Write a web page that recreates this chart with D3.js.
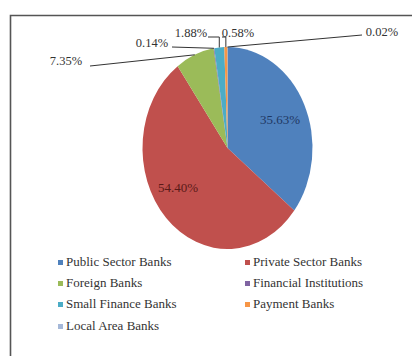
<!DOCTYPE html>
<html><head><meta charset="utf-8">
<script src="https://cdn.jsdelivr.net/npm/d3@7/dist/d3.min.js"></script>
<style>html,body{margin:0;padding:0;background:#fff;overflow:hidden;}svg{display:block;}</style>
</head><body>
<script>
const categories = ["Public Sector Banks","Private Sector Banks","Foreign Banks","Financial Institutions","Small Finance Banks","Payment Banks","Local Area Banks"];
const values = [35.63, 54.40, 7.35, 0.14, 1.88, 0.58, 0.02];
const labels = ["35.63%","54.40%","7.35%","0.14%","1.88%","0.58%","0.02%"];
const colors = ["#4F81BD","#C0504D","#9BBB59","#8064A2","#4BACC6","#F79646","#A5B8D8"];

const FONT = "'Liberation Serif', 'DejaVu Serif', serif";
const W = 412, H = 356;
const svg = d3.select("body").append("svg").attr("width", W).attr("height", H);
svg.append("rect").attr("width", W).attr("height", H).attr("fill", "#fff");
svg.append("path").attr("d", "M10.5,356 L10.5,15.5 L412,15.5")
  .attr("fill", "none").attr("stroke", "#555").attr("stroke-width", 1.6);

const cx = 227.5, cy = 148, rx = 85, ry = 101;
const pie = d3.pie().sort(null).value(d => d);
const arcs = pie(values);
const arc = d3.arc().innerRadius(0).outerRadius(rx);
const g = svg.append("g").attr("transform", `translate(${cx},${cy}) scale(1,${ry/rx})`);
g.selectAll("path").data(arcs).join("path")
  .attr("d", arc).attr("fill", (d,i) => colors[i]);

function edge(d) {
  const a = (d.startAngle + d.endAngle) / 2;
  return [cx + rx * Math.sin(a), cy - ry * Math.cos(a)];
}

const inside = {0: [280, 121, "#1F3864"], 1: [178, 189, "#5A1A18"]};
Object.entries(inside).forEach(([i, p]) => {
  svg.append("text").attr("x", p[0]).attr("y", p[1]).attr("text-anchor", "middle")
    .attr("dominant-baseline", "middle").style("font-family", FONT)
    .attr("font-size", 13).attr("fill", p[2])
    .text(labels[+i]);
});

const outside = {
  2: {x: 66, y: 62, pts: [[90, 66]]},
  3: {x: 152, y: 44, pts: [[172, 47]]},
  4: {x: 191, y: 34, pts: [[208, 37], [215, 37]]},
  5: {x: 238, y: 34, pts: [[222, 37], [225, 37]]},
  6: {x: 382, y: 33, pts: [[362, 35]]}
};
Object.entries(outside).forEach(([i, o]) => {
  const d = arcs[+i];
  const e = edge(d);
  const pts = o.pts.slice();
  if (+i === 4 || +i === 5) pts.push([e[0], pts[pts.length-1][1]]);
  pts.push(e);
  svg.append("path").attr("d", d3.line()(pts)).attr("fill", "none")
    .attr("stroke", "#333").attr("stroke-width", 1);
  svg.append("text").attr("x", o.x).attr("y", o.y).attr("text-anchor", "middle")
    .attr("dominant-baseline", "middle").style("font-family", FONT)
    .attr("font-size", 12.5).attr("fill", "#333")
    .text(labels[+i]);
});

const colX = [58, 245];
const rowY = [263, 284, 305, 327];
categories.forEach((c, i) => {
  const x = colX[i % 2], y = rowY[Math.floor(i / 2)];
  svg.append("rect").attr("x", x).attr("y", y - 3).attr("width", 5).attr("height", 5).attr("fill", colors[i]);
  svg.append("text").attr("x", x + 8).attr("y", y).attr("dominant-baseline", "middle")
    .style("font-family", FONT)
    .attr("font-size", 13).attr("fill", "#333")
    .text(c);
});
</script>
</body></html>
